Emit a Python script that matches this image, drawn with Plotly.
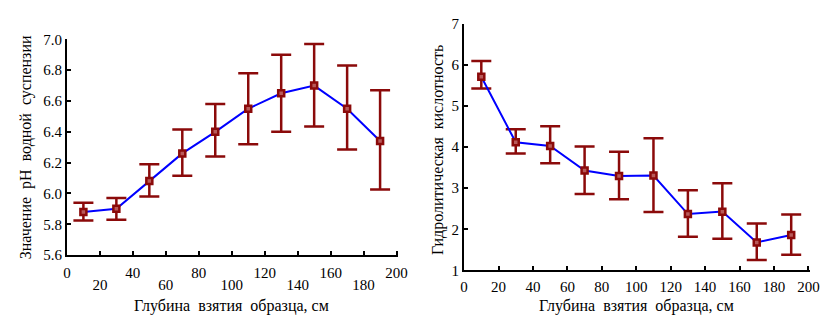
import plotly.graph_objects as go

depth = [10, 30, 50, 70, 90, 110, 130, 150, 170, 190]

ph_mean = [5.88, 5.90, 6.08, 6.26, 6.40, 6.55, 6.65, 6.70, 6.55, 6.34]
ph_upper = [5.94, 5.97, 6.19, 6.415, 6.58, 6.78, 6.90, 6.97, 6.83, 6.67]
ph_lower = [5.825, 5.83, 5.98, 6.115, 6.24, 6.32, 6.40, 6.435, 6.285, 6.025]

ha_mean = [5.72, 4.12, 4.03, 3.43, 3.30, 3.31, 2.37, 2.43, 1.68, 1.86]
ha_upper = [6.10, 4.44, 4.51, 4.02, 3.89, 4.22, 2.95, 3.12, 2.14, 2.36]
ha_lower = [5.43, 3.85, 3.61, 2.86, 2.73, 2.42, 1.82, 1.77, 1.25, 1.38]

x_ticks = [0, 20, 40, 60, 80, 100, 120, 140, 160, 180, 200]
x_ticks_row1 = [0, 40, 80, 120, 160, 200]
x_ticks_row2 = [20, 60, 100, 140, 180]
ph_yticks = [5.6, 5.8, 6.0, 6.2, 6.4, 6.6, 6.8, 7.0]
ha_yticks = [1, 2, 3, 4, 5, 6, 7]

x_title = "Глубина  взятия  образца, см"
ph_title = "Значение  pH  водной  суспензии"
ha_title = "Гидролитическая  кислотность"

W, H = 828, 322
FONT = "'Liberation Serif', 'Times New Roman', 'DejaVu Serif', serif"
DARKRED = "#8b0a0a"

def px(v):
    return v / W

def py(v):
    return 1 - v / H

fig = go.Figure()

def add_series(xa, ya, mean, upper, lower):
    fig.add_trace(go.Scatter(
        x=depth, y=mean, xaxis=xa, yaxis=ya, mode="lines+markers",
        line=dict(color="#0000ff", width=2),
        marker=dict(symbol="square", size=6, color="#b85a5a",
                    line=dict(color=DARKRED, width=2.5)),
        error_y=dict(type="data", symmetric=False,
                     array=[u - m for u, m in zip(upper, mean)],
                     arrayminus=[m - l for m, l in zip(mean, lower)],
                     color=DARKRED, thickness=2.5, width=10),
        showlegend=False,
    ))

add_series("x", "y", ph_mean, ph_upper, ph_lower)
add_series("x2", "y2", ha_mean, ha_upper, ha_lower)

tickfont = dict(family=FONT, size=15, color="black")
axis_common = dict(showgrid=False, zeroline=False, showline=True,
                   linecolor="black", linewidth=2, ticks="inside",
                   ticklen=4, tickwidth=2, tickcolor="black",
                   tickfont=tickfont)

fig.update_layout(
    width=W, height=H,
    margin=dict(l=0, r=0, t=0, b=0),
    paper_bgcolor="white", plot_bgcolor="white",
    font=dict(family=FONT),
    xaxis=dict(domain=[px(64), px(401)], range=[0, 201], tickvals=x_ticks,
               ticktext=[str(v) if v in x_ticks_row1 else "" for v in x_ticks],
               ticklabelstandoff=3, anchor="y", **axis_common),
    xaxis3=dict(overlaying="x", anchor="y", range=[0, 201], tickvals=x_ticks_row2,
                ticktext=[str(v) for v in x_ticks_row2], showgrid=False,
                zeroline=False, showline=False, ticks="", tickfont=tickfont,
                ticklabelstandoff=19, side="bottom"),
    yaxis=dict(domain=[py(260), py(33)], range=[5.6, 7.0], tickvals=ph_yticks,
               ticktext=[f"{v:.1f}" for v in ph_yticks], anchor="x", **axis_common),
    xaxis2=dict(domain=[px(468), px(820)], range=[0, 201], tickvals=x_ticks,
                ticktext=[str(v) for v in x_ticks], ticklabelstandoff=2,
                anchor="y2", **axis_common),
    yaxis2=dict(domain=[py(276), py(17)], range=[1, 7], tickvals=ha_yticks,
                ticktext=[str(v) for v in ha_yticks], anchor="x2", **axis_common),
)

# invisible trace so the second row of tick labels (xaxis3) renders
fig.add_trace(go.Scatter(x=[0], y=[5.6], xaxis="x3", yaxis="y", mode="markers",
                         marker=dict(opacity=0), showlegend=False, hoverinfo="skip"))

ann_font = dict(family=FONT, size=16, color="black")
fig.add_annotation(x=px(231), y=py(314), xref="paper", yref="paper",
                   text=x_title, showarrow=False, font=ann_font,
                   xanchor="center", yanchor="middle")
fig.add_annotation(x=px(643), y=py(314), xref="paper", yref="paper",
                   text=x_title, showarrow=False, font=ann_font,
                   xanchor="center", yanchor="middle")
fig.add_annotation(x=px(22), y=py(147), xref="paper", yref="paper",
                   text=ph_title, showarrow=False, font=ann_font, textangle=-90,
                   xanchor="center", yanchor="middle")
fig.add_annotation(x=px(441), y=py(150), xref="paper", yref="paper",
                   text=ha_title, showarrow=False, font=ann_font, textangle=-90,
                   xanchor="center", yanchor="middle")

fig.write_html("out.html")
